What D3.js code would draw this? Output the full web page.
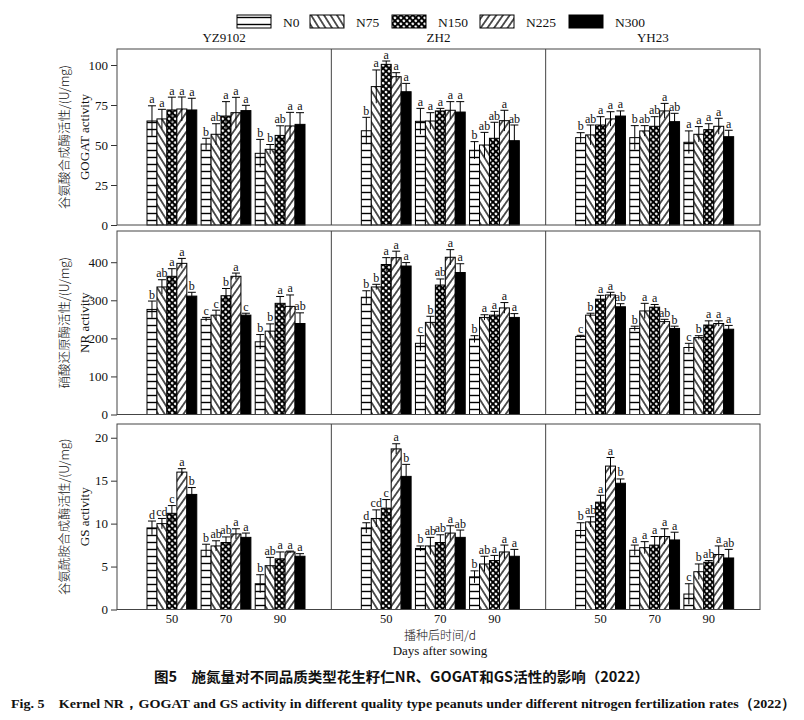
<!DOCTYPE html>
<html>
<head>
<meta charset="utf-8">
<script src="https://cdn.jsdelivr.net/npm/d3@7"></script>
<style>
  body { margin: 0; background: #fff; }
  svg text { font-family: "Liberation Serif", "Times New Roman", serif; fill: #111; }
</style>
</head>
<body>
<svg id="chart" width="804" height="720"></svg>
<script>
const cultivars = ['YZ9102', 'ZH2', 'YH23'];
const days = [50, 70, 90];
const levels = ['N0', 'N75', 'N150', 'N225', 'N300'];

// values are [cultivar][day][N level]
const gogatMean = [
  [[65, 66.3, 71.9, 72.5, 71.9], [50.6, 56.7, 68.1, 70.2, 71.5], [44.8, 47.3, 56, 61.9, 62.9]],
  [[58.9, 86.5, 100.4, 92.7, 83.3], [64.8, 65, 71.3, 71.7, 70.6], [46.7, 50, 54.2, 65.2, 52.7]],
  [[54.6, 56.3, 62.5, 66.3, 68.1], [54.6, 58.8, 61.7, 71.3, 64.6], [51.7, 56.7, 59.6, 61.7, 55.2]]
];
const gogatSd = [
  [[9.5, 6, 8, 7.5, 7.3], [3.6, 6.6, 9, 9.6, 3.3], [8.7, 3, 6, 8.5, 7.3]],
  [[8.4, 10.4, 2.1, 2.5, 5.2], [8.1, 5.2, 1.6, 5.4, 6.5], [5.4, 7.9, 10, 6.5, 9.8]],
  [[3.1, 6.2, 5.2, 4.5, 3.2], [7.5, 3.3, 6, 4.7, 5.2], [7.1, 4.8, 3.7, 5, 4]]
];
const gogatSig = [
  [['a', 'a', 'a', 'a', 'a'], ['b', 'ab', 'a', 'a', 'a'], ['b', 'b', 'ab', 'a', 'a']],
  [['b', 'a', 'a', 'a', 'a'], ['a', 'a', 'a', 'a', 'a'], ['b', 'ab', 'ab', 'a', 'ab']],
  [['b', 'ab', 'a', 'a', 'a'], ['b', 'ab', 'ab', 'a', 'ab'], ['a', 'a', 'a', 'a', 'a']]
];

const nrMean = [
  [[276, 335, 363, 397, 311], [250, 261, 312, 363, 261], [191, 219, 292, 284, 239]],
  [[308, 335, 394, 412, 390], [187, 242, 340, 413, 373], [198, 255, 261, 280, 255]],
  [[205, 261, 303, 314, 283], [226, 272, 282, 244, 226], [176, 202, 235, 239, 224]]
];
const nrSd = [
  [[22, 19, 20, 13, 10], [5, 13, 19, 8.5, 5], [19, 19, 18, 30, 28]],
  [[17, 7, 18, 17, 9], [20, 16, 16, 20, 23], [9, 7, 10, 14, 10]],
  [[3, 5, 10, 7, 8], [6, 20, 7, 6, 6], [11, 5, 11, 7, 10]]
];
const nrSig = [
  [['b', 'ab', 'a', 'a', 'b'], ['c', 'c', 'b', 'a', 'c'], ['b', 'b', 'a', 'a', 'ab']],
  [['b', 'b', 'a', 'a', 'a'], ['c', 'b', 'ab', 'a', 'a'], ['b', 'a', 'a', 'a', 'a']],
  [['c', 'b', 'a', 'a', 'ab'], ['b', 'a', 'a', 'ab', 'b'], ['c', 'b', 'a', 'a', 'a']]
];

const gsMean = [
  [[9.5, 10.0, 11.2, 16.0, 13.4], [6.9, 7.4, 7.8, 8.8, 8.4], [3.0, 5.1, 5.9, 6.7, 6.2]],
  [[9.5, 10.6, 11.8, 18.7, 15.5], [7.1, 7.4, 7.8, 8.9, 8.4], [3.8, 5.3, 5.7, 6.7, 6.2]],
  [[9.2, 10.2, 12.5, 16.7, 14.7], [6.9, 7.2, 7.5, 8.5, 8.1], [1.8, 4.4, 5.5, 6.4, 6.0]]
];
const gsSd = [
  [[0.8, 0.6, 0.9, 0.4, 0.8], [0.7, 0.6, 0.65, 0.6, 0.5], [1.05, 0.97, 0.8, 0.1, 0.3]],
  [[0.6, 1, 1, 0.6, 1.4], [0.3, 1, 0.9, 0.85, 0.85], [0.7, 0.9, 0.6, 0.8, 0.8]],
  [[0.9, 0.6, 0.8, 1, 0.5], [0.6, 0.7, 1, 0.9, 0.9], [1.2, 0.9, 0.2, 1, 1]]
];
const gsSig = [
  [['d', 'cd', 'c', 'a', 'b'], ['b', 'ab', 'ab', 'a', 'a'], ['b', 'ab', 'a', 'a', 'a']],
  [['d', 'cd', 'c', 'a', 'b'], ['b', 'ab', 'ab', 'a', 'ab'], ['b', 'ab', 'a', 'a', 'a']],
  [['b', 'ab', 'a', 'a', 'b'], ['a', 'a', 'a', 'a', 'a'], ['c', 'b', 'ab', 'a', 'ab']]
];

const rowTicks = [[0, 25, 50, 75, 100], [0, 100, 200, 300, 400], [0, 5, 10, 15, 20]];
const rowLabelsZh = ['谷氨酸合成酶活性/(U/mg)', '硝酸还原酶活性/(U/mg)', '谷氨酰胺合成酶活性/(U/mg)'];
const rowLabelsEn = ['GOGAT activity', 'NR activity', 'GS activity'];

const rows = [
  { mean: gogatMean, sd: gogatSd, sig: gogatSig, top: 49, bottom: 225, max: 110 },
  { mean: nrMean, sd: nrSd, sig: nrSig, top: 231, bottom: 414.5, max: 482 },
  { mean: gsMean, sd: gsSd, sig: gsSig, top: 424, bottom: 609.5, max: 21.6 }
].map((r, i) => ({ ...r, ticks: rowTicks[i], zh: rowLabelsZh[i], en: rowLabelsEn[i] }));

const svg = d3.select('#chart');
const left = 117;
const right = 760;
const panelW = (right - left) / 3;

// fill patterns
const defs = svg.append('defs');

const pN0 = defs.append('pattern').attr('id', 'p-N0')
  .attr('patternUnits', 'userSpaceOnUse').attr('width', 8).attr('height', 7);
pN0.append('rect').attr('width', 8).attr('height', 7).attr('fill', '#fff');
pN0.append('line').attr('x1', 0).attr('x2', 8).attr('y1', 3.5).attr('y2', 3.5)
  .attr('stroke', '#000').attr('stroke-width', 1.4);

function stripes(id, angle) {
  const p = defs.append('pattern').attr('id', id)
    .attr('patternUnits', 'userSpaceOnUse').attr('width', 5.5).attr('height', 5.5)
    .attr('patternTransform', `rotate(${angle})`);
  p.append('rect').attr('width', 5.5).attr('height', 5.5).attr('fill', '#fff');
  p.append('line').attr('x1', 2.75).attr('x2', 2.75).attr('y1', 0).attr('y2', 5.5)
    .attr('stroke', '#000').attr('stroke-width', 1.3);
}
stripes('p-N75', -32);
stripes('p-N225', 35);

const pN150 = defs.append('pattern').attr('id', 'p-N150')
  .attr('patternUnits', 'userSpaceOnUse').attr('width', 4.2).attr('height', 4.2)
  .attr('patternTransform', 'rotate(45)');
pN150.append('rect').attr('width', 4.2).attr('height', 4.2).attr('fill', '#000');
pN150.append('circle').attr('cx', 2.1).attr('cy', 2.1).attr('r', 1.35).attr('fill', '#fff');

const fills = {
  N0: 'url(#p-N0)',
  N75: 'url(#p-N75)',
  N150: 'url(#p-N150)',
  N225: 'url(#p-N225)',
  N300: '#000'
};

// legend
const legendX = [237, 310, 392, 480, 569];
const legend = svg.append('g').attr('class', 'legend');
levels.forEach((lv, i) => {
  legend.append('rect')
    .attr('x', legendX[i]).attr('y', 15).attr('width', 34).attr('height', 13)
    .attr('fill', fills[lv]).attr('stroke', '#000').attr('stroke-width', 1);
  legend.append('text')
    .attr('x', legendX[i] + 46).attr('y', 27)
    .attr('font-size', 13.5).text(lv);
});

// cultivar titles
cultivars.forEach((c, ci) => {
  svg.append('text')
    .attr('x', left + panelW * ci + panelW / 2).attr('y', 42)
    .attr('text-anchor', 'middle').attr('font-size', 13).text(c);
});

rows.forEach((row, ri) => {
  const y = d3.scaleLinear().domain([0, row.max]).range([row.bottom, row.top]);
  const g = svg.append('g').attr('class', 'row');

  // y axis
  const axis = g.append('g')
    .attr('transform', `translate(${left},0)`)
    .call(d3.axisLeft(y).tickValues(row.ticks).tickSize(6).tickPadding(3));
  axis.select('.domain').remove();
  axis.selectAll('line').attr('stroke', '#333');
  axis.selectAll('text').attr('font-size', 13).attr('fill', '#111')
    .style('font-family', '"Liberation Serif", serif');

  // y titles (rotated, baseline runs vertically)
  const cy = (row.top + row.bottom) / 2;
  g.append('text')
    .attr('transform', `translate(64,${cy}) rotate(-90)`)
    .attr('text-anchor', 'middle').attr('dy', '0.4em')
    .attr('font-size', 12.5).attr('fill', '#555')
    .style('font-family', '"Noto Sans CJK SC", sans-serif')
    .style('font-weight', 300)
    .text(row.zh);
  g.append('text')
    .attr('transform', `translate(84,${cy}) rotate(-90)`)
    .attr('text-anchor', 'middle').attr('dy', '0.35em')
    .attr('font-size', 13).text(row.en);

  cultivars.forEach((c, ci) => {
    const px = left + panelW * ci;
    const x = d3.scaleBand().domain(days).range([px + 30, px + 188]).paddingInner(0.08);
    const xi = d3.scaleBand().domain(levels).range([0, x.bandwidth()]);

    const recs = [];
    days.forEach((d, di) => levels.forEach((lv, li) => {
      recs.push({ day: d, lv, m: row.mean[ci][di][li], s: row.sd[ci][di][li], sig: row.sig[ci][di][li] });
    }));

    const cx = (d) => x(d.day) + xi(d.lv) + xi.bandwidth() / 2;

    g.append('g').selectAll('rect')
      .data(recs)
      .join('rect')
      .attr('x', (d) => x(d.day) + xi(d.lv))
      .attr('y', (d) => y(d.m))
      .attr('width', xi.bandwidth())
      .attr('height', (d) => y(0) - y(d.m))
      .attr('fill', (d) => fills[d.lv])
      .attr('stroke', '#000')
      .attr('stroke-width', 1);

    const err = g.append('g').attr('stroke', '#000').attr('stroke-width', 1);
    err.selectAll('line.v')
      .data(recs)
      .join('line')
      .attr('class', 'v')
      .attr('x1', cx)
      .attr('x2', cx)
      .attr('y1', (d) => y(Math.max(0, d.m - d.s)))
      .attr('y2', (d) => y(d.m + d.s));
    err.selectAll('line.cap')
      .data(recs)
      .join('line')
      .attr('class', 'cap')
      .attr('x1', (d) => cx(d) - 4)
      .attr('x2', (d) => cx(d) + 4)
      .attr('y1', (d) => y(d.m + d.s))
      .attr('y2', (d) => y(d.m + d.s));

    g.append('g').selectAll('text')
      .data(recs)
      .join('text')
      .attr('x', cx)
      .attr('y', (d) => y(d.m + d.s) - 2.5)
      .attr('text-anchor', 'middle')
      .attr('font-size', 12)
      .text((d) => d.sig);

    // day labels only under the last row
    if (ri === rows.length - 1) {
      g.append('g').selectAll('text.day')
        .data(days)
        .join('text')
        .attr('class', 'day')
        .attr('x', (d) => x(d) + x.bandwidth() / 2)
        .attr('y', 623)
        .attr('text-anchor', 'middle')
        .attr('font-size', 12.5)
        .text((d) => d);
    }
  });

  // panel frame
  g.append('rect')
    .attr('x', left).attr('y', row.top)
    .attr('width', right - left).attr('height', row.bottom - row.top)
    .attr('fill', 'none').attr('stroke', '#444').attr('stroke-width', 1);
  [1, 2].forEach((k) => {
    g.append('line')
      .attr('x1', left + panelW * k).attr('x2', left + panelW * k)
      .attr('y1', row.top).attr('y2', row.bottom)
      .attr('stroke', '#444').attr('stroke-width', 1);
  });
});

// x title
svg.append('text')
  .attr('x', 440).attr('y', 640).attr('text-anchor', 'middle')
  .attr('font-size', 12).attr('fill', '#444')
  .style('font-family', '"Noto Sans CJK SC", sans-serif').style('font-weight', 300)
  .text('播种后时间/d');
svg.append('text')
  .attr('x', 440).attr('y', 655).attr('text-anchor', 'middle')
  .attr('font-size', 13).text('Days after sowing');

// captions
svg.append('text')
  .attr('x', 154).attr('y', 682)
  .attr('font-size', 14).attr('font-weight', 'bold')
  .attr('textLength', 495).attr('lengthAdjust', 'spacingAndGlyphs')
  .style('font-family', '"Noto Sans CJK SC", sans-serif')
  .style('white-space', 'pre')
  .text('图5　施氮量对不同品质类型花生籽仁NR、GOGAT和GS活性的影响（2022）');
svg.append('text')
  .attr('x', 11).attr('y', 708)
  .attr('font-size', 13.5).attr('font-weight', 'bold')
  .attr('textLength', 785).attr('lengthAdjust', 'spacingAndGlyphs')
  .style('white-space', 'pre')
  .text('Fig. 5    Kernel NR，GOGAT and GS activity in different quality type peanuts under different nitrogen fertilization rates（2022）');
</script>
</body>
</html>
